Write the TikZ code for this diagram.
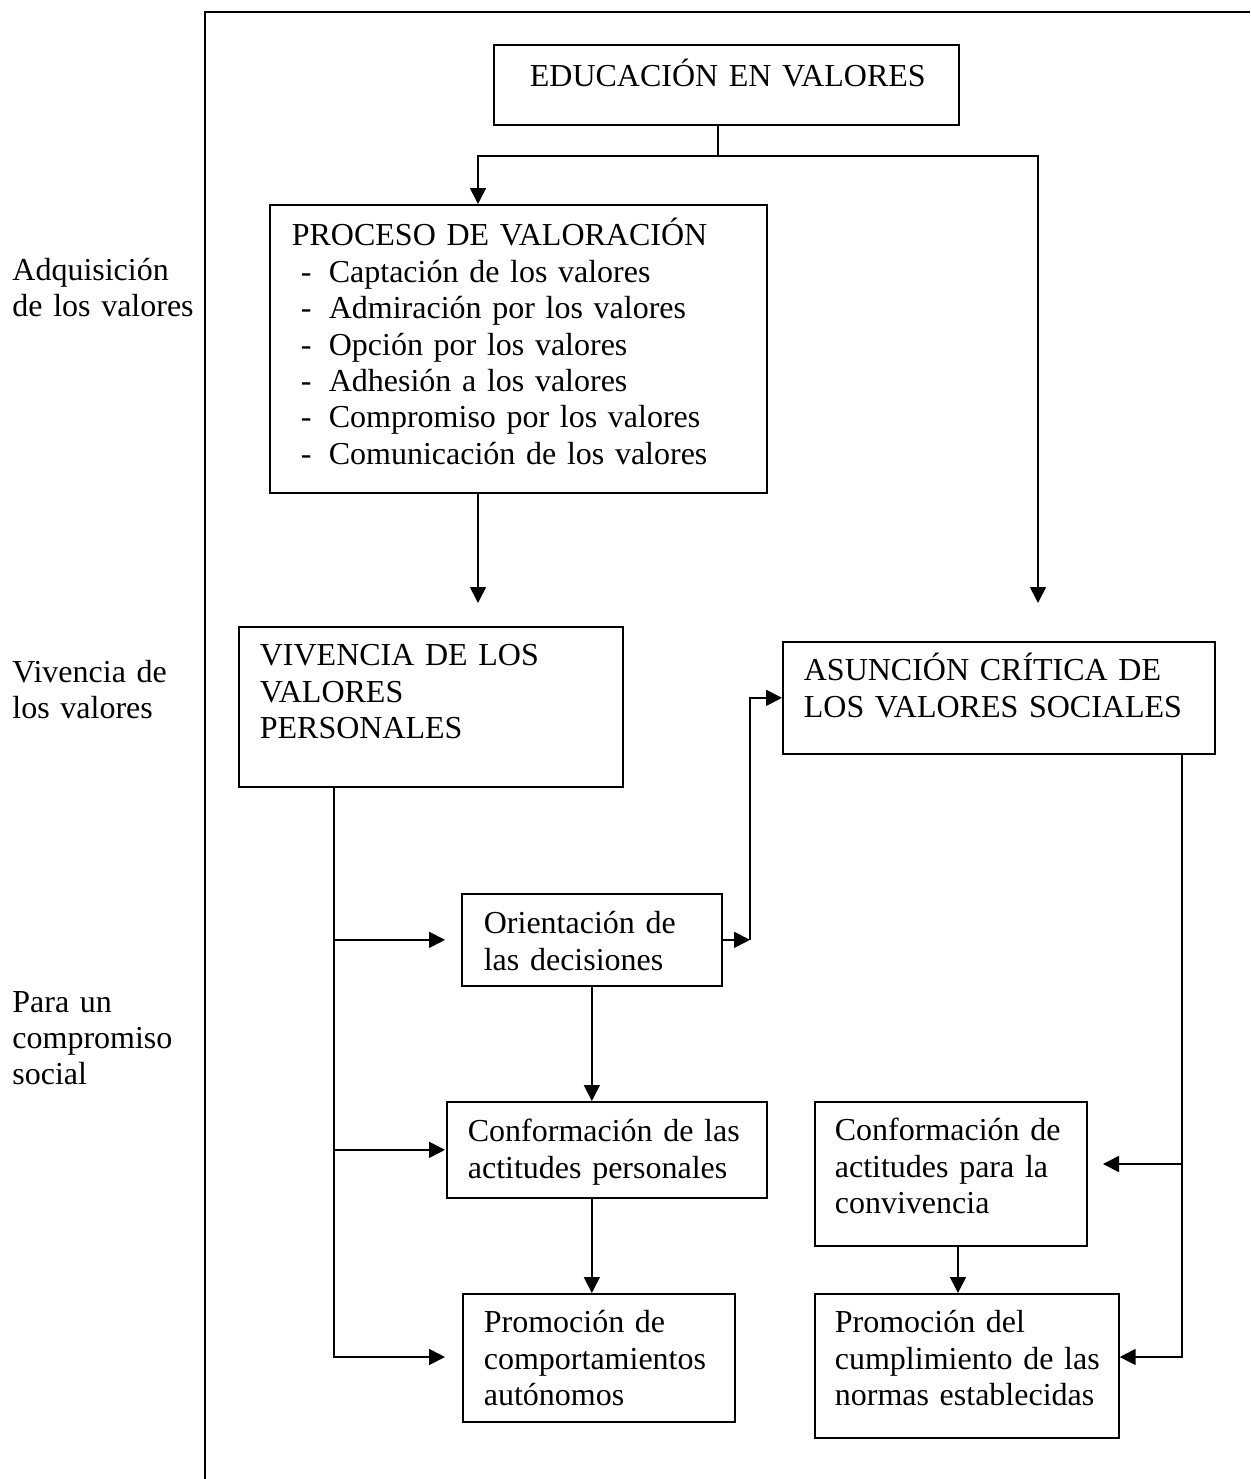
\documentclass[tikz,border=0pt]{standalone}
\usepackage{fontspec}
\setmainfont{Liberation Serif}
\usetikzlibrary{arrows.meta}
\newcommand{\bulletdash}{\makebox[18.5pt][l]{\hspace{4.5pt}-}}
\begin{document}
\begin{tikzpicture}[x=0.5pt,y=-0.5pt,
  box/.style={draw, line width=0.85pt, anchor=north west, align=left, inner sep=0pt,
    font=\fontsize{16pt}{18.2pt}\selectfont},
  lpad/.style={execute at begin node={\leftskip=#1\relax}},
  lbl/.style={anchor=base west, align=left, inner sep=0pt, text width=95pt,
    font=\fontsize{16pt}{18pt}\selectfont},
  arr/.style={line width=0.85pt, -{Triangle[length=8pt,width=8pt]}},
  ln/.style={line width=0.85pt},
  frameline/.style={line width=0.7pt}]
\useasboundingbox (0,0) rectangle (1250,1479);

% frame
\coordinate (ftr) at (1250,12);
\coordinate (ftl) at (205,12);
\coordinate (fbl) at (205,1479);
\draw[frameline] (ftr) -- (ftl) -- (fbl);

% side labels
\node[lbl] (l1) at (12,280) {Adquisición\\de los valores};
\node[lbl] (l2) at (12,682) {Vivencia de\\los valores};
\node[lbl] (l3) at (12,1012) {Para un\\compromiso\\social};

% boxes
\node[box, lpad=18pt, text width=232.5pt, text height=21pt, text depth=19pt] (edu) at (493,44)
  {EDUCACIÓN EN VALORES};
\node[box, lpad=11pt, text width=248.5pt, text height=20.5pt, text depth=123.5pt] (proc) at (269,204)
  {PROCESO DE VALORACIÓN\\
   \bulletdash Captación de los valores\\
   \bulletdash Admiración por los valores\\
   \bulletdash Opción por los valores\\
   \bulletdash Adhesión a los valores\\
   \bulletdash Compromiso por los valores\\
   \bulletdash Comunicación de los valores};
\node[box, lpad=10.5pt, text width=192pt, text height=19.5pt, text depth=60.5pt] (viv) at (238,626)
  {VIVENCIA DE LOS\\VALORES\\PERSONALES};
\node[box, lpad=10.5pt, text width=216pt, text height=19.5pt, text depth=36.5pt] (asu) at (782,641)
  {ASUNCIÓN CRÍTICA DE\\LOS VALORES SOCIALES};
\node[box, lpad=11pt, text width=130pt, text height=20pt, text depth=26pt] (ori) at (461,893)
  {Orientación de\\las decisiones};
\node[box, lpad=10.5pt, text width=160pt, text height=20pt, text depth=28pt] (cpers) at (446,1101)
  {Conformación de las\\actitudes personales};
\node[box, lpad=10.5pt, text width=136pt, text height=19.5pt, text depth=44.5pt] (pcomp) at (462,1293)
  {Promoción de\\comportamientos\\autónomos};
\node[box, lpad=10pt, text width=136pt, text height=19.5pt, text depth=52.5pt] (cconv) at (814,1101)
  {Conformación de\\actitudes para la\\convivencia};
\node[box, lpad=10pt, text width=152pt, text height=19.5pt, text depth=52.5pt] (pnorm) at (814,1293)
  {Promoción del\\cumplimiento de las\\normas establecidas};

% connectors from EDUCACION
\coordinate (j1) at (718,156);
\coordinate (xl) at (478,0);
\coordinate (a1) at (478,603);
\coordinate (a2) at (1038,603);
\draw[ln] (edu.south -| j1) -- (j1);
\draw[arr] (j1) -| (proc.north -| xl);
\draw[arr] (j1) -| (a2);
\draw[arr] (proc.south -| a1) -- (a1);

% bus from VIVENCIA
\coordinate (vb) at (334,1357);
\coordinate (tx) at (445,0);
\draw[arr] (viv.south -| vb) -- (vb) -- (tx |- vb);
\draw[arr] (vb |- ori.west) -- (tx |- ori.west);
\draw[arr] (vb |- cpers.west) -- (tx |- cpers.west);

% Orientacion to Asuncion
\coordinate (c1) at (750,0);
\draw[arr] (ori.east) -- (c1 |- ori.east);
\draw[arr] (c1 |- ori.east) -- (c1 |- asu.west) -- (asu.west);

% down the middle column
\draw[arr] (ori.south) -- (cpers.north -| ori.south);
\draw[arr] (cpers.south -| ori.south) -- (pcomp.north -| ori.south);

% bus from ASUNCION
\coordinate (d1) at (1182,1164);
\coordinate (d2) at (1182,1357);
\coordinate (e1) at (1103,1164);
\draw[arr] (asu.south -| d2) -- (d2) -- (pnorm.east |- d2);
\draw[arr] (d1) -- (e1);

% convivencia to normas
\coordinate (c2) at (958,0);
\draw[arr] (cconv.south -| c2) -- (pnorm.north -| c2);
\end{tikzpicture}
\end{document}
